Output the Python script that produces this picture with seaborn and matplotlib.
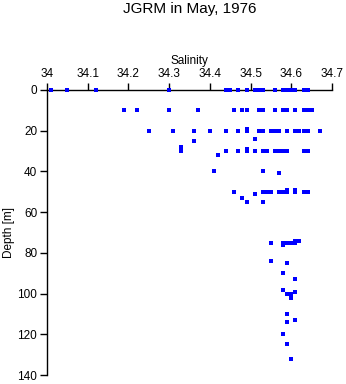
import matplotlib
matplotlib.use('Agg')
import matplotlib.pyplot as plt
import seaborn as sns
import pandas as pd

depth = [0]*18 + [10]*16 + [19] + [20]*18 + [24, 25, 28, 29] + [30]*13 + [32, 40, 40, 41] \
        + [49, 49] + [50]*10 + [51, 53, 55, 55] \
        + [74, 74, 75, 75, 75, 75, 75, 76] \
        + [84, 85, 90, 93, 98, 99, 100, 100, 102, 110, 113, 114, 120, 125, 132]
salinity = [34.01, 34.05, 34.12, 34.30, 34.44, 34.45, 34.47, 34.49, 34.51, 34.52, 34.53,
            34.56, 34.58, 34.59, 34.60, 34.61, 34.63, 34.64] \
    + [34.19, 34.22, 34.30, 34.37, 34.46, 34.48, 34.49, 34.52, 34.53, 34.56, 34.58,
       34.59, 34.61, 34.63, 34.64, 34.65] \
    + [34.49] \
    + [34.25, 34.31, 34.36, 34.40, 34.44, 34.47, 34.49, 34.52, 34.53, 34.55, 34.56,
       34.57, 34.59, 34.61, 34.62, 34.63, 34.64, 34.67] \
    + [34.51, 34.36, 34.33, 34.49] \
    + [34.33, 34.44, 34.47, 34.49, 34.51, 34.53, 34.54, 34.56, 34.57, 34.58, 34.59,
       34.63, 34.64] \
    + [34.42, 34.41, 34.53, 34.57] \
    + [34.59, 34.61] \
    + [34.46, 34.53, 34.54, 34.55, 34.57, 34.58, 34.59, 34.61, 34.63, 34.64] \
    + [34.51, 34.48, 34.49, 34.53] \
    + [34.61, 34.62, 34.55, 34.58, 34.59, 34.60, 34.61, 34.58] \
    + [34.55, 34.59, 34.58, 34.61, 34.58, 34.61, 34.59, 34.60, 34.60, 34.59, 34.61,
       34.59, 34.58, 34.59, 34.60]

xticks = [34.0, 34.1, 34.2, 34.3, 34.4, 34.5, 34.6, 34.7]
xticklabels = ['34', '34.1', '34.2', '34.3', '34.4', '34.5', '34.6', '34.7']
yticks = [0, 20, 40, 60, 80, 100, 120, 140]

df = pd.DataFrame({'salinity': salinity, 'depth': depth})

sns.set_style('white')
plt.rcParams['font.family'] = ['Liberation Sans', 'DejaVu Sans']

fig = plt.figure(figsize=(3.46, 3.84), dpi=100)
ax = fig.add_axes([47/346, 1 - 375/384, 285/346, 285/384])
sns.scatterplot(data=df, x='salinity', y='depth', marker='s', s=5, color='#0000ff',
                linewidth=0, ax=ax, legend=False)
for coll in ax.collections:
    coll.set_clip_on(False)
    coll.set_zorder(5)
ax.set_xlim(34, 34.7)
ax.set_ylim(140, 0)
ax.xaxis.tick_top()
ax.xaxis.set_label_position('top')
ax.set_xticks(xticks)
ax.set_xticklabels(xticklabels)
ax.set_yticks(yticks)
for s in ['right', 'bottom']:
    ax.spines[s].set_visible(False)
for s in ['top', 'left']:
    ax.spines[s].set_color('black')
    ax.spines[s].set_linewidth(1)
    ax.spines[s].set_zorder(2)
ax.tick_params(direction='out', length=5, width=1, color='black', labelsize=8.5,
               pad=2, labelcolor='black')
ax.tick_params(axis='x', top=True, bottom=False)
ax.tick_params(axis='y', left=True, right=False)
ax.set_xlabel('Salinity', fontsize=8.5, labelpad=3, color='black')
ax.set_ylabel('Depth [m]', fontsize=8.5, labelpad=2, color='black')
ax.grid(False)
fig.text(189.5/346, 1 - 9.5/384, 'JGRM in May, 1976', ha='center', va='center',
         fontsize=11, color='black')

fig.savefig('out.png', dpi=100)
